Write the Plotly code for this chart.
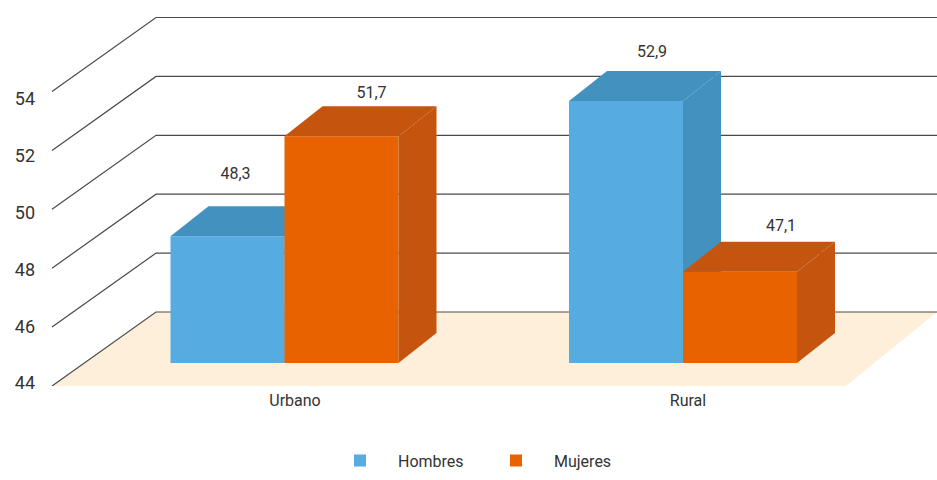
import plotly.graph_objects as go

# --- data ---
categories = ["Urbano", "Rural"]
hombres = [48.3, 52.9]
mujeres = [51.7, 47.1]
y_ticks = [44, 46, 48, 50, 52, 54]
series_names = ["Hombres", "Mujeres"]

# --- layout constants (pixels in a 937x480 canvas) ---
W, H = 937, 480
ML, MB = 40, 94
PX = 29.45                     # px per value unit on the front plane
TOP = 44 + (H - MB) / PX
to_u = lambda px: px / PX      # vertical pixels to value units

group_centres = [284.5, 683]
label_centres = [295, 688]
BAR_W = 114
BASE_SHIFT = to_u(23)          # bars stand 23px into the floor
BAR_DX, BAR_DY = 38, to_u(30)  # bar depth
WALL_DX, WALL_DY = 104, to_u(74)
WALL_X0, FLOOR_FRONT_R, RIGHT = 52, 846, 937

BLUE, BLUE_D = "#56ABE1", "#4391BF"
ORANGE, ORANGE_D = "#E86200", "#C5540F"
FLOOR = "#FDEFD9"
LINE = "#4a4a4a"
TEXT = "#333333"
FONT = "Roboto, sans-serif"
FS = 16

# value-label nudges from the front top of each bar (px)
hombres_lab_dx, hombres_lab_dy = [8, 26], [61, 48]
mujeres_lab_dx, mujeres_lab_dy = [30, 41], [42, 45]

fmt = lambda v: f"{v:.1f}".replace(".", ",")

fig = go.Figure()

# floor
b = 44
fig.add_trace(go.Scatter(
    x=[WALL_X0, FLOOR_FRONT_R, RIGHT, WALL_X0 + WALL_DX, WALL_X0],
    y=[b, b, b + WALL_DY, b + WALL_DY, b],
    fill="toself", fillcolor=FLOOR, mode="none", showlegend=False, hoverinfo="skip",
    xaxis="x", yaxis="y"))

# wall grid lines
gx, gy = [], []
for t in y_ticks:
    gx += [WALL_X0, WALL_X0 + WALL_DX, RIGHT, None]
    gy += [t, t + WALL_DY, t + WALL_DY, None]
fig.add_trace(go.Scatter(x=gx, y=gy, mode="lines", line=dict(color=LINE, width=1.2),
                         showlegend=False, hoverinfo="skip", xaxis="x", yaxis="y"))

# axis carrying the left-hand tick labels
fig.add_trace(go.Scatter(x=[WALL_X0] * len(y_ticks), y=y_ticks, mode="none",
                         showlegend=False, hoverinfo="skip", xaxis="x", yaxis="y4"))


def add_series(name, vals, offs, front, dark, ax, lab_dx, lab_dy):
    xs = [c + offs * BAR_W / 2 for c in group_centres]
    fig.add_trace(go.Bar(
        x=xs, y=[v - 44 for v in vals], base=44 + BASE_SHIFT, width=BAR_W,
        marker=dict(color=front, line=dict(width=0)), name=name,
        xaxis=f"x{ax}", yaxis=f"y{ax}", hoverinfo="skip"))
    for x, v in zip(xs, vals):
        l, r = x - BAR_W / 2, x + BAR_W / 2
        t = v + BASE_SHIFT
        bot = 44 + BASE_SHIFT
        # top face
        fig.add_trace(go.Scatter(
            x=[l, r, r + BAR_DX, l + BAR_DX, l], y=[t, t, t + BAR_DY, t + BAR_DY, t],
            fill="toself", fillcolor=dark, mode="none", showlegend=False, hoverinfo="skip",
            xaxis=f"x{ax}", yaxis=f"y{ax}"))
        # side face
        fig.add_trace(go.Scatter(
            x=[r, r + BAR_DX, r + BAR_DX, r, r],
            y=[t, t + BAR_DY, bot + BAR_DY, bot, t],
            fill="toself", fillcolor=dark, mode="none", showlegend=False, hoverinfo="skip",
            xaxis=f"x{ax}", yaxis=f"y{ax}"))
    fig.add_trace(go.Scatter(
        x=[x + d for x, d in zip(xs, lab_dx)],
        y=[v + BASE_SHIFT + to_u(d) for v, d in zip(vals, lab_dy)],
        text=[fmt(v) for v in vals], mode="text",
        textfont=dict(family=FONT, size=FS, color=TEXT), showlegend=False, hoverinfo="skip",
        xaxis=f"x{ax}", yaxis=f"y{ax}"))


add_series(series_names[0], hombres, -1, BLUE, BLUE_D, 2, hombres_lab_dx, hombres_lab_dy)
add_series(series_names[1], mujeres, 1, ORANGE, ORANGE_D, 3, mujeres_lab_dx, mujeres_lab_dy)

xr = [ML, W]
yr = [44, TOP]
hidden = dict(visible=False, fixedrange=True)
LAB_PX = 28.4
fig.update_layout(
    width=W, height=H, autosize=False, margin=dict(l=ML, r=0, t=0, b=MB, pad=0),
    paper_bgcolor="white", plot_bgcolor="white", barmode="overlay",
    font=dict(family=FONT, size=FS, color=TEXT),
    xaxis=dict(range=xr, tickmode="array", tickvals=label_centres, ticktext=categories,
               showgrid=False, zeroline=False, showline=False, ticks="", fixedrange=True,
               ticklabelstandoff=3, tickfont=dict(family=FONT, size=FS, color=TEXT)),
    yaxis=dict(range=yr, **hidden),
    xaxis2=dict(range=xr, overlaying="x", **hidden),
    yaxis2=dict(range=yr, overlaying="y", **hidden),
    xaxis3=dict(range=xr, overlaying="x", **hidden),
    yaxis3=dict(range=yr, overlaying="y", **hidden),
    yaxis4=dict(range=[44 - 3 / LAB_PX, 44 + 383 / LAB_PX], overlaying="y", side="left",
                tickmode="array", tickvals=y_ticks, showgrid=False, zeroline=False,
                showline=False, ticks="", fixedrange=True, ticklabelstandoff=4,
                tickfont=dict(family=FONT, size=FS + 2, color=TEXT)),
    legend=dict(orientation="h", x=(322 - ML) / (W - ML), xanchor="left",
                y=-(443.5 - 386) / 386, yanchor="top",
                itemwidth=66, entrywidth=75, entrywidthmode="pixels",
                font=dict(family=FONT, size=FS, color=TEXT),
                bgcolor="rgba(0,0,0,0)", traceorder="normal"),
    showlegend=True,
)

fig.write_html("out.html", config=dict(displayModeBar=False),
               post_script="document.body.style.margin='0';")
